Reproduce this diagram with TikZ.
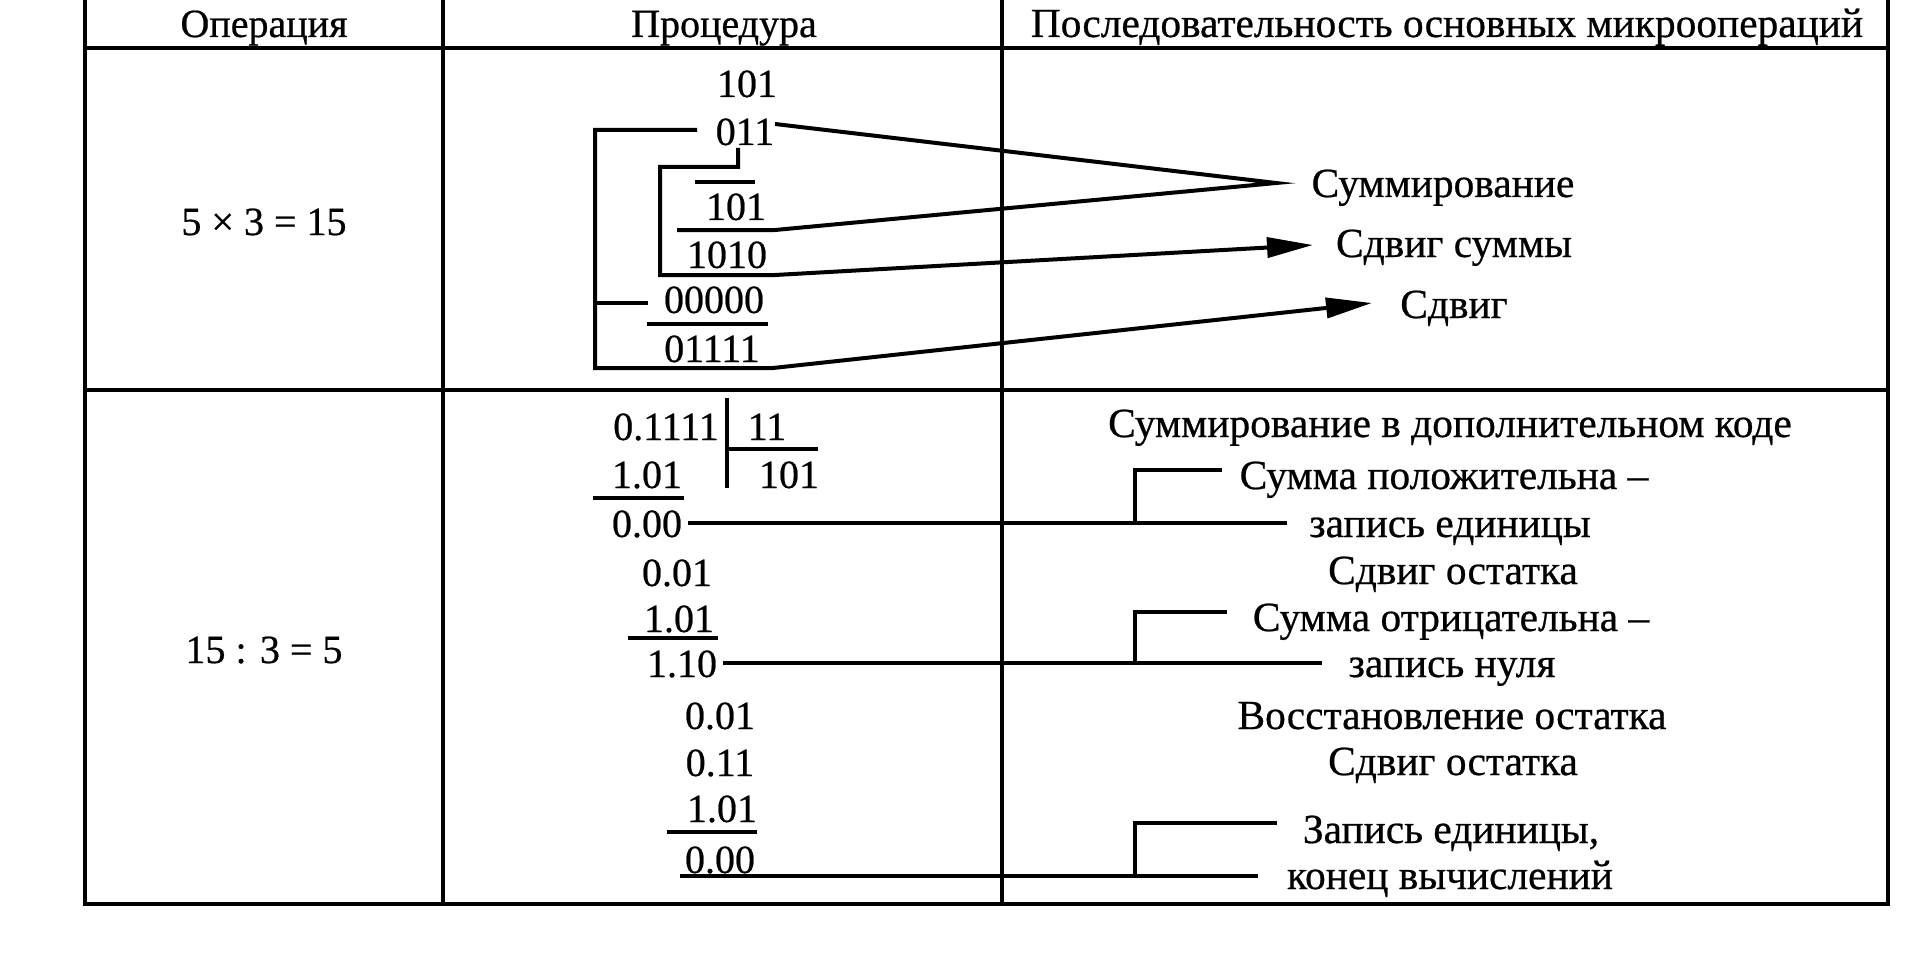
\documentclass[tikz,border=0pt]{standalone}
\usepackage{fontspec}
\setmainfont{Liberation Serif}[FakeBold=0.6]
\usetikzlibrary{arrows.meta}
\begin{document}
\begin{tikzpicture}[x=0.5pt,y=-0.5pt,
  txt/.style={anchor=base,inner sep=0pt,font=\fontsize{20}{24}\selectfont},
  rtxt/.style={anchor=base,inner sep=0pt,font=\fontsize{20.7}{24}\selectfont},
  grid/.style={line width=1.7pt},
  conn/.style={line width=2pt},
  arr/.style={conn,-{Triangle[length=23pt,width=10pt]}}]
\useasboundingbox (0,0) rectangle (1912,979);
% table
\draw[grid] (85,0) -- (85,904) -- (1888,904) -- (1888,0);
\draw[grid] (443,0) -- (443,904);
\draw[grid] (1002,0) -- (1002,904);
\draw[grid] (85,48) -- (1888,48);
\draw[grid] (85,390) -- (1888,390);
% header
\node[txt] (h1) at (264,37) {Операция};
\node[txt] (h2) at (724,37) {Процедура};
\node[rtxt] (h3) at (1447,37) {Последовательность основных микроопераций};
% row 1
\node[txt] (op1) at (264,235) {5 × 3 = 15};
\node[txt] (m1) at (747,97) {101};
\node[txt] (m2) at (745,145) {011};
\node[txt] (m3) at (736,220) {101};
\node[txt] (m4) at (727,268) {1010};
\node[txt] (m5) at (714,313) {00000};
\node[txt] (m6) at (712,362) {01111};
\node[rtxt] (r1) at (1443,197) {Суммирование};
\node[rtxt] (r2) at (1454,257) {Сдвиг суммы};
\node[rtxt] (r3) at (1454,318) {Сдвиг};
\coordinate (apex) at (1276,183);
\coordinate (t2) at (1313,245);
\coordinate (t3) at (1372,303);
% overline and underlines
\draw[conn] (695,182) -- (755,182);
\draw[conn] (647,324) -- (768,324);
% summation lines
\draw[conn] (775,124) -- (apex) -- (775,230) -- (677,230);
% inner bracket
\draw[arr] (738,148) -- (738,167) -- (660,167) -- (660,275) -- (775,275) -- (t2);
% outer bracket
\draw[arr] (697,130) -- (595,130) -- (595,368) -- (773,368) -- (t3);
\draw[conn] (648,303) -- (595,303);
% row 2
\node[txt] (op2) at (264,663) {15 : 3 = 5};
\node[txt] (d1) at (666,440) {0.1111};
\node[txt] (d2) at (767,440) {11};
\node[txt] (d3) at (789,488) {101};
\node[txt] (d4) at (647,488) {1.01};
\node[txt] (d5) at (647,537) {0.00};
\node[txt] (d6) at (677,586) {0.01};
\node[txt] (d7) at (679,632) {1.01};
\node[txt] (d8) at (682,677) {1.10};
\node[txt] (d9) at (720,729) {0.01};
\node[txt] (d10) at (720,776) {0.11};
\node[txt] (d11) at (722,822) {1.01};
\node[txt] (d12) at (720,873) {0.00};
\draw[conn] (727,398) -- (727,488);
\draw[conn] (728,449) -- (818,449);
\draw[conn] (593,498) -- (684,498);
\draw[conn] (628,638) -- (718,638);
\draw[conn] (667,832) -- (757,832);
% right texts row 2
\node[rtxt] (s1) at (1450,437) {Суммирование в дополнительном коде};
\node[rtxt] (s2) at (1444,489) {Сумма положительна –};
\node[rtxt] (s3) at (1450,537) {запись единицы};
\node[rtxt] (s4) at (1453,584) {Сдвиг остатка};
\node[rtxt] (s5) at (1451,631) {Сумма отрицательна –};
\node[rtxt] (s6) at (1452,677) {запись нуля};
\node[rtxt] (s7) at (1452,729) {Восстановление остатка};
\node[rtxt] (s8) at (1453,775) {Сдвиг остатка};
\node[rtxt] (s9) at (1451,843) {Запись единицы,};
\node[rtxt] (s10) at (1450,889) {конец вычислений};
% brackets row 2
\draw[conn] (688,523) -- (1287,523);
\draw[conn] (1135,523) -- (1135,470) -- (1222,470);
\draw[conn] (723,663) -- (1322,663);
\draw[conn] (1135,663) -- (1135,612) -- (1227,612);
\draw[conn] (680,876) -- (1258,876);
\draw[conn] (1135,876) -- (1135,823) -- (1277,823);
\end{tikzpicture}
\end{document}
